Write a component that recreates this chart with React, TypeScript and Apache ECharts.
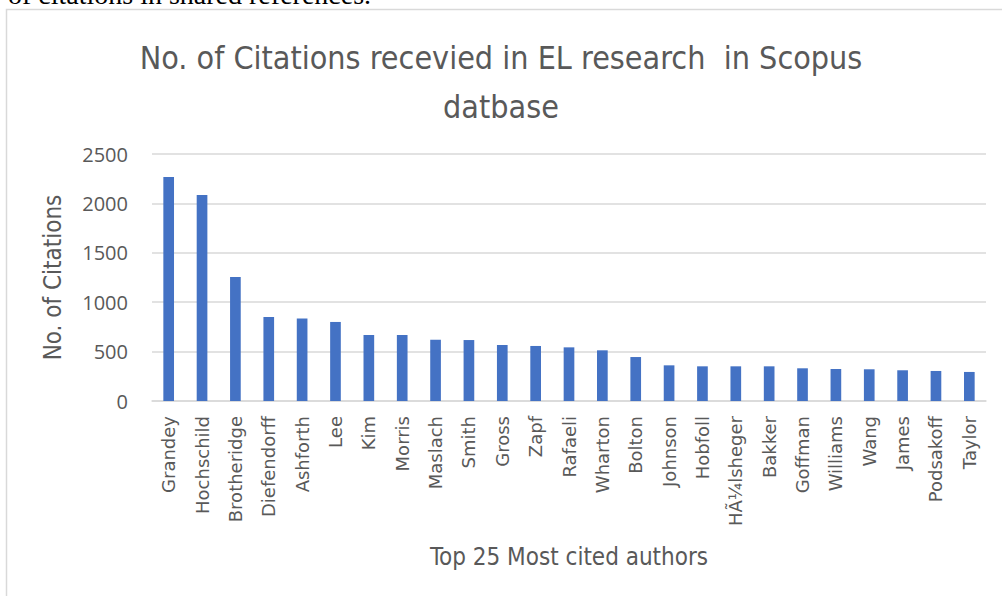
import React, { useEffect, useRef } from "react";
import * as echarts from "echarts";

// Top 25 most cited authors and their citation counts
const authors = [
  "Grandey", "Hochschild", "Brotheridge", "Diefendorff", "Ashforth", "Lee", "Kim",
  "Morris", "Maslach", "Smith", "Gross", "Zapf", "Rafaeli", "Wharton", "Bolton",
  "Johnson", "Hobfoll", "HÃ¼lsheger", "Bakker", "Goffman", "Williams", "Wang",
  "James", "Podsakoff", "Taylor",
];
const citations = [
  2267, 2085, 1255, 850, 835, 800, 668, 668, 620, 617, 567, 557, 543, 513, 445,
  361, 351, 351, 351, 331, 324, 321, 311, 304, 294,
];
const yTicks = [0, 500, 1000, 1500, 2000, 2500];

const titleText = "No. of Citations recevied in EL research  in Scopus\ndatbase";
const yAxisName = "No. of Citations";
const xAxisName = "Top 25 Most cited authors";
const docLine = "of citations in shared references.";

const narrow = "'Liberation Sans Narrow', 'DejaVu Sans Condensed', sans-serif";
const grey = "#595959";
const lineGrey = "#d9d9d9";

export default function App() {
  const ref = useRef<HTMLDivElement>(null);

  useEffect(() => {
    if (!ref.current) return;
    const chart = echarts.init(ref.current, null, { renderer: "svg" });
    chart.setOption({
      animation: false,
      backgroundColor: "#ffffff",
      title: {
        text: titleText,
        left: "center",
        top: 28,
        textStyle: {
          fontFamily: narrow,
          fontSize: 32,
          fontWeight: "normal",
          color: grey,
          lineHeight: 49,
        },
      },
      graphic: [
        {
          // tail of the document line above the chart frame
          type: "text",
          left: 8,
          top: -20,
          style: {
            text: docLine,
            fontFamily: "'Liberation Serif', 'DejaVu Serif', serif",
            fontSize: 28,
            fill: "#000000",
          },
        },
        {
          type: "polyline",
          shape: { points: [[6.5, 700], [6.5, 9.5], [1100, 9.5]] },
          style: { stroke: lineGrey, lineWidth: 1.5, fill: "none" },
        },
      ],
      grid: { left: 152, right: 16, top: 154, bottom: 195, containLabel: false },
      xAxis: {
        type: "category",
        data: authors,
        name: xAxisName,
        nameLocation: "middle",
        nameGap: 144,
        nameTextStyle: { fontFamily: narrow, fontSize: 24, color: grey },
        axisLine: { lineStyle: { color: lineGrey, width: 1.5 } },
        axisTick: { show: false },
        axisLabel: {
          rotate: 90,
          interval: 0,
          margin: 15,
          fontFamily: "'DejaVu Sans', sans-serif",
          fontSize: 18,
          color: grey,
        },
      },
      yAxis: {
        type: "value",
        min: yTicks[0],
        max: yTicks[yTicks.length - 1],
        interval: 500,
        name: yAxisName,
        nameLocation: "middle",
        nameGap: 87,
        nameTextStyle: { fontFamily: narrow, fontSize: 24, color: grey },
        axisLine: { show: false },
        axisTick: { show: false },
        axisLabel: {
          margin: 24,
          fontFamily: "'Open Sans', sans-serif",
          fontSize: 20,
          color: grey,
          formatter: (v: number) => String(v),
        },
        splitLine: { lineStyle: { color: lineGrey, width: 1.5 } },
      },
      series: [
        {
          type: "bar",
          data: citations,
          barWidth: "32%",
          itemStyle: { color: "#4472c4" },
        },
      ],
    });
    return () => chart.dispose();
  }, []);

  return (
    <div
      ref={ref}
      style={{ position: "absolute", left: 0, top: 0, width: 1002, height: 596 }}
    />
  );
}
